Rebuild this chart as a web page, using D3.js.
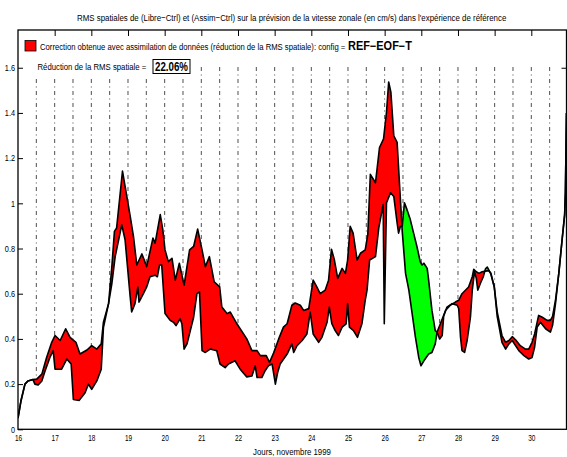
<!DOCTYPE html>
<html><head><meta charset="utf-8">
<script src="https://cdn.jsdelivr.net/npm/d3@7"></script>
<style>body{margin:0;background:#fff}svg{display:block}</style>
</head><body><svg id="c" width="567" height="457"></svg>
<script>
// ---------- DATA ----------
const libreDays=[16.00,16.08,16.19,16.27,16.41,16.51,16.65,16.78,16.92,17.01,17.15,17.30,17.42,17.58,17.69,17.88,18.01,18.15,18.27,18.33,18.47,18.56,18.63,18.69,18.85,18.92,19.06,19.15,19.24,19.38,19.51,19.68,19.74,19.88,19.95,20.01,20.10,20.20,20.29,20.40,20.53,20.68,20.79,20.90,21.02,21.11,21.22,21.35,21.50,21.56,21.70,21.79,21.97,22.24,22.38,22.52,22.61,22.77,22.86,22.97,23.11,23.24,23.34,23.47,23.56,23.70,23.79,23.93,24.05,24.15,24.24,24.38,24.47,24.55,24.63,24.72,24.84,24.93,24.99,25.06,25.14,25.25,25.34,25.47,25.54,25.61,25.75,25.86,25.97,26.05,26.11,26.17,26.25,26.34,26.43,26.48,26.57,26.66,26.75,26.84,26.93,26.99,27.07,27.20,27.29,27.38,27.43,27.52,27.66,27.79,27.93,28.02,28.11,28.29,28.39,28.43,28.50,28.57,28.66,28.75,28.84,28.90,28.99,29.07,29.20,29.30,29.39,29.48,29.57,29.70,29.84,29.93,30.02,30.09,30.20,30.30,30.43,30.52,30.58,30.66,30.75,30.84,30.91,30.93,30.96];
const libreVals=[0.05,0.125,0.20,0.214,0.22,0.222,0.244,0.318,0.385,0.415,0.393,0.445,0.407,0.385,0.333,0.351,0.370,0.355,0.378,0.474,0.556,0.72,0.876,0.891,1.143,1.076,0.943,0.853,0.727,0.776,0.72,0.846,0.824,0.95,0.883,0.794,0.742,0.757,0.66,0.735,0.638,0.794,0.809,0.886,0.794,0.72,0.764,0.653,0.630,0.541,0.512,0.519,0.467,0.40,0.348,0.348,0.326,0.326,0.296,0.337,0.40,0.452,0.467,0.549,0.559,0.549,0.526,0.534,0.66,0.630,0.60,0.616,0.66,0.797,0.749,0.668,0.712,0.690,0.749,0.898,0.868,0.749,0.779,0.794,0.861,1.128,1.091,1.247,1.285,1.403,1.537,1.492,1.299,1.27,1.017,0.876,0.69,0.616,0.512,0.407,0.318,0.281,0.303,0.333,0.340,0.378,0.43,0.467,0.526,0.549,0.563,0.571,0.60,0.630,0.675,0.708,0.697,0.69,0.697,0.700,0.702,0.69,0.63,0.52,0.415,0.385,0.393,0.41,0.396,0.370,0.355,0.355,0.385,0.422,0.504,0.496,0.482,0.482,0.50,0.571,0.69,0.839,0.95,1.05,1.40];
const assimDays=[16.00,16.08,16.19,16.27,16.41,16.46,16.55,16.65,16.74,16.87,16.96,17.01,17.19,17.33,17.45,17.51,17.67,17.83,17.92,18.01,18.15,18.27,18.33,18.47,18.56,18.65,18.83,18.92,19.06,19.10,19.19,19.27,19.30,19.42,19.51,19.60,19.74,19.80,19.86,19.92,20.01,20.15,20.24,20.31,20.42,20.47,20.53,20.61,20.70,20.79,20.88,20.95,21.02,21.11,21.24,21.42,21.51,21.65,21.74,21.92,22.06,22.24,22.38,22.47,22.52,22.65,22.74,22.83,22.93,23.02,23.08,23.15,23.34,23.47,23.52,23.61,23.75,23.88,23.97,24.05,24.20,24.29,24.43,24.49,24.56,24.65,24.74,24.84,24.95,24.99,25.04,25.15,25.26,25.38,25.47,25.52,25.59,25.75,25.84,25.96,25.99,26.05,26.16,26.25,26.34,26.38,26.43,26.48,26.54,26.61,26.70,26.79,26.88,26.97,27.02,27.07,27.16,27.20,27.29,27.38,27.43,27.50,27.57,27.61,27.70,27.84,27.98,28.02,28.07,28.11,28.18,28.25,28.34,28.39,28.45,28.50,28.54,28.61,28.69,28.75,28.80,28.89,28.99,29.07,29.20,29.30,29.39,29.48,29.57,29.66,29.80,29.93,30.02,30.09,30.16,30.25,30.39,30.52,30.58,30.66,30.75,30.84,30.91,30.93,30.96];
const assimVals=[0.05,0.125,0.20,0.214,0.22,0.20,0.196,0.214,0.259,0.318,0.348,0.266,0.266,0.311,0.289,0.132,0.128,0.162,0.2,0.177,0.214,0.266,0.45,0.556,0.645,0.764,0.905,0.839,0.586,0.519,0.556,0.630,0.563,0.60,0.63,0.675,0.682,0.675,0.727,0.727,0.512,0.482,0.474,0.459,0.489,0.467,0.355,0.378,0.437,0.496,0.60,0.608,0.348,0.340,0.355,0.348,0.289,0.273,0.289,0.303,0.266,0.232,0.236,0.281,0.229,0.229,0.259,0.281,0.289,0.2,0.25,0.289,0.333,0.378,0.340,0.370,0.393,0.422,0.519,0.422,0.385,0.407,0.474,0.541,0.467,0.437,0.415,0.452,0.467,0.556,0.452,0.437,0.407,0.467,0.571,0.616,0.749,0.764,0.891,0.995,0.467,1.002,1.047,1.03,0.913,0.868,0.898,0.90,1.002,0.972,0.928,0.868,0.809,0.742,0.727,0.735,0.712,0.66,0.526,0.437,0.43,0.40,0.415,0.50,0.541,0.556,0.549,0.534,0.407,0.348,0.340,0.393,0.496,0.616,0.697,0.668,0.616,0.645,0.675,0.71,0.718,0.69,0.63,0.50,0.385,0.355,0.378,0.393,0.370,0.348,0.326,0.311,0.318,0.363,0.452,0.474,0.445,0.43,0.46,0.556,0.69,0.839,0.95,1.05,1.40];
const analysisDays=[16.5,17,17.5,18,18.5,19,19.5,20,20.5,21,21.5,22,22.5,23,23.5,24,24.5,25,25.5,26,26.5,27,27.5,28,28.5,29,29.5,30,30.5];
const xTickVals=[16,17,18,19,20,21,22,23,24,25,26,27,28,29,30];
const yTickVals=[0,0.2,0.4,0.6,0.8,1,1.2,1.4,1.6];
const titleText="RMS spatiales de (Libre\u2212Ctrl) et (Assim\u2212Ctrl) sur la prévision de la vitesse zonale (en cm/s) dans l'expérience de référence";
const legendText="Correction obtenue avec assimilation de données (réduction de la RMS spatiale): config =";
const configText="REF\u2212EOF\u2212T";
const reductionLabel="Réduction de la RMS spatiale =";
const reductionValue="22.06%";
const xLabelText="Jours, novembre 1999";

// ---------- CHART ----------
const FONT='"Liberation Sans Narrow","Arial Narrow","Liberation Sans",Arial,sans-serif';
const svg=d3.select("#c");
const L=18,R=566.5,T=30,B=429.3;
const x=d3.scaleLinear().domain([16,30.96]).range([L,R]);
const y=d3.scaleLinear().domain([0,1.767]).range([B,T]);

const libre=libreDays.map((d,i)=>[d,libreVals[i]]);
const assim=assimDays.map((d,i)=>[d,assimVals[i]]);

function interp(days,vals,t){
  const i=d3.bisectRight(days,t);
  if(i<=0) return vals[0];
  if(i>=days.length) return vals[vals.length-1];
  const f=(t-days[i-1])/(days[i]-days[i-1]);
  return vals[i-1]+f*(vals[i]-vals[i-1]);
}
// horizontally condense a text to a target width (narrow Helvetica look)
function fit(sel,w){
  const n=sel.node().getComputedTextLength();
  const s=Math.min(1,w/n);
  const x0=+sel.attr("x")||0, y0=+sel.attr("y")||0;
  const anchor=sel.attr("text-anchor");
  sel.attr("x",0).attr("y",0).attr("transform",`translate(${x0},${y0}) scale(${s},1)`);
  return sel;
}

const defs=svg.append("defs");
const areaAbove=d3.area().x(d=>x(d[0])).y0(T-10).y1(d=>y(d[1]));
const areaBelow=d3.area().x(d=>x(d[0])).y0(B+10).y1(d=>y(d[1]));
defs.append("clipPath").attr("id","aboveAssim").append("path").attr("d",areaAbove(assim));
defs.append("clipPath").attr("id","aboveLibre").append("path").attr("d",areaAbove(libre));
defs.append("clipPath").attr("id","plot").append("rect").attr("x",L).attr("y",T).attr("width",R-L).attr("height",B-T);

const g=svg.append("g").attr("clip-path","url(#plot)");

// dashed analysis lines
g.selectAll("line.an").data(analysisDays).join("line").attr("class","an")
  .attr("x1",d=>x(d)).attr("x2",d=>x(d))
  .attr("y1",67)
  .attr("y2",d=>y(Math.max(interp(libreDays,libreVals,d),interp(assimDays,assimVals,d))))
  .attr("stroke","#222").attr("stroke-width",0.8)
  .attr("stroke-dasharray","4,3.5,1,3.5");

// white background behind second legend row
svg.append("rect").attr("x",30).attr("y",56).attr("width",166).attr("height",21).attr("fill","#fff");

// fills
g.append("path").attr("d",areaBelow(libre)).attr("fill","#ff0000").attr("clip-path","url(#aboveAssim)");
g.append("path").attr("d",areaBelow(assim)).attr("fill","#00ff00").attr("clip-path","url(#aboveLibre)");

// curves
const line=d3.line().x(d=>x(d[0])).y(d=>y(d[1]));
[assim,libre].forEach(s=>{
  g.append("path").attr("d",line(s)).attr("fill","none").attr("stroke","#000")
   .attr("stroke-width",1.6).attr("stroke-linejoin","round");
});

// axes
const axL=svg.append("g").attr("transform",`translate(${L},0)`)
  .call(d3.axisLeft(y).tickValues(yTickVals).tickSize(-5).tickPadding(3).tickFormat(d=>String(+d.toFixed(1))));
const axB=svg.append("g").attr("transform",`translate(0,${B})`)
  .call(d3.axisBottom(x).tickValues(xTickVals).tickSize(0).tickPadding(6));
const axT=svg.append("g").attr("transform",`translate(0,${T})`)
  .call(d3.axisTop(x).tickValues(xTickVals.slice(1)).tickSize(-6).tickFormat(""));
const axR=svg.append("g").attr("transform",`translate(${R},0)`)
  .call(d3.axisRight(y).tickValues([1.6]).tickSize(-5).tickFormat(""));
[axL,axB,axT,axR].forEach(a=>{
  a.select(".domain").remove();
  a.selectAll("line").attr("stroke","#000").attr("stroke-width",1);
  a.selectAll("text").attr("font-family",FONT).attr("font-size","8.5px").attr("fill","#000");
});
axB.selectAll("text").each(function(){
  const t=d3.select(this);const n=this.getComputedTextLength();const s=Math.min(1,t.text().length*3.6/n);
  t.attr("transform",`scale(${s},1)`);
});
axL.selectAll("text").each(function(){
  const t=d3.select(this);const n=this.getComputedTextLength();const len=t.text().length;
  const s=Math.min(1,(len===1?4:len*3.4)/n);
  t.attr("x",-3/s).attr("transform",`scale(${s},1)`);
});

// box
svg.append("rect").attr("x",L).attr("y",T).attr("width",R-L).attr("height",B-T)
  .attr("fill","none").attr("stroke","#000").attr("stroke-width",1.3);

// title
fit(svg.append("text").attr("x",77).attr("y",21).attr("font-family",FONT).attr("font-size","9.5px")
  .text(titleText),430);

// legend row 1
svg.append("rect").attr("x",25).attr("y",40.5).attr("width",11).attr("height",10.5)
  .attr("fill","#ff0000").attr("stroke","#000").attr("stroke-width",0.8);
fit(svg.append("text").attr("x",40).attr("y",49.5).attr("font-family",FONT).attr("font-size","9px")
  .text(legendText),306);
fit(svg.append("text").attr("x",348).attr("y",50).attr("font-family",FONT).attr("font-size","12px")
  .attr("font-weight","bold").text(configText),64);

// legend row 2
fit(svg.append("text").attr("x",37.5).attr("y",70).attr("font-family",FONT).attr("font-size","9px")
  .text(reductionLabel),109);
svg.append("rect").attr("x",153).attr("y",59.5).attr("width",37).attr("height",14)
  .attr("fill","#fff").attr("stroke","#000").attr("stroke-width",1);
fit(svg.append("text").attr("x",171.5).attr("y",71).attr("text-anchor","middle").attr("font-family",FONT)
  .attr("font-size","12px").attr("font-weight","bold").text(reductionValue),33);

// x label
fit(svg.append("text").attr("x",292).attr("y",455).attr("text-anchor","middle").attr("font-family",FONT)
  .attr("font-size","9.5px").text(xLabelText),78);
</script></body></html>
